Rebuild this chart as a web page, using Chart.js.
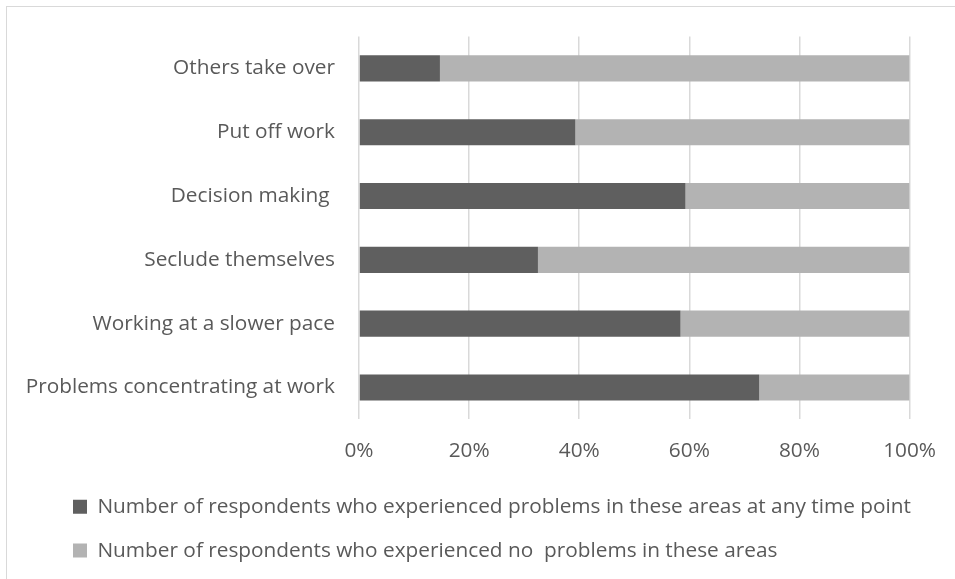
<!DOCTYPE html>
<html>
<head>
<meta charset="utf-8">
<script src="https://cdn.jsdelivr.net/npm/chart.js@4"></script>
<style>
  body { margin: 0; background: #fff; overflow: hidden; }
  #frame {
    position: absolute; left: 6px; top: 6px; width: 1000px; height: 1000px;
    border: 1.5px solid #d9d9d9; box-sizing: border-box;
  }
  #wrap { position: absolute; left: 0; top: 0; width: 955px; height: 600px; }
</style>
</head>
<body>
<div id="frame"></div>
<div id="wrap"><canvas id="impactChart"></canvas></div>
<script>
const categories = [
  "Others take over",
  "Put off work",
  "Decision making ",
  "Seclude themselves",
  "Working at a slower pace",
  "Problems concentrating at work"
];
const experiencedProblems = [14.7, 39.3, 59.3, 32.5, 58.4, 72.7];
const noProblems = [85.3, 60.7, 40.7, 67.5, 41.6, 27.3];
const seriesNames = [
  "Number of respondents who experienced problems in these areas at any time point",
  "Number of respondents who experienced no  problems in these areas"
];
const tickLabels = ["0%", "20%", "40%", "60%", "80%", "100%"];

// legend rows start further right than the category labels, like the original
const legendShift = {
  id: "legendShift",
  afterLayout(chart) {
    chart.legend.left = 50;
    chart.legend.right = chart.width;
  },
};

document.addEventListener("DOMContentLoaded", () => {
  const font = { family: "Open Sans", size: 20.8 };
  const ctx = document.getElementById("impactChart").getContext("2d");

  new Chart(ctx, {
    type: "bar",
    data: {
      labels: categories,
      datasets: [
        {
          label: seriesNames[0],
          data: experiencedProblems,
          backgroundColor: "#5f5f5f",
          barPercentage: 0.41,
          categoryPercentage: 1,
        },
        {
          label: seriesNames[1],
          data: noProblems,
          backgroundColor: "#b3b3b3",
          barPercentage: 0.41,
          categoryPercentage: 1,
        },
      ],
    },
    plugins: [legendShift],
    options: {
      indexAxis: "y",
      responsive: true,
      maintainAspectRatio: false,
      animation: false,
      layout: { padding: { left: 12, top: 35, right: 42, bottom: 29 } },
      scales: {
        x: {
          stacked: true,
          min: 0,
          max: 100,
          grid: { color: "#d9d9d9", lineWidth: 1.5, drawTicks: false },
          border: { display: false },
          ticks: {
            stepSize: 20,
            color: "#595959",
            font: font,
            padding: 19,
            callback: (v, i) => tickLabels[i],
          },
          afterFit: (scale) => { scale.height = 54; },
        },
        y: {
          stacked: true,
          grid: { display: false, drawTicks: false },
          border: { display: false },
          ticks: { color: "#595959", font: font, padding: 24 },
          afterFit: (scale) => { scale.width = 347; },
        },
      },
      plugins: {
        tooltip: { enabled: false },
        legend: {
          position: "bottom",
          align: "start",
          labels: {
            color: "#595959",
            font: font,
            boxWidth: 14,
            boxHeight: 14,
            padding: 23,
          },
        },
      },
    },
  });
});
</script>
</body>
</html>
